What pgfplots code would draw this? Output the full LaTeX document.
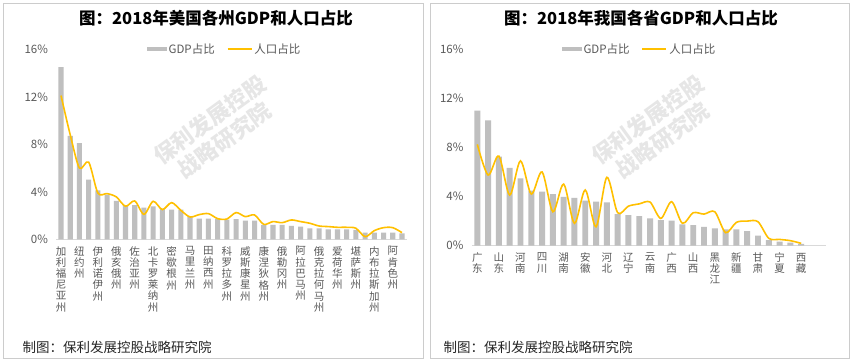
\documentclass[border=0pt]{standalone}
\usepackage{fontspec}
\setmainfont{Noto Sans CJK SC}
\usepackage{pgfplots}
\usepackage{pgfplotstable}
\pgfplotsset{compat=1.18}
\definecolor{bargray}{HTML}{BFBFBF}
\definecolor{lineyel}{HTML}{FFC000}
\definecolor{ticktxt}{HTML}{595959}
\definecolor{wm}{HTML}{E6E6E6}

\pgfplotstableread{
i gdp pop
0 14.5 12.1
1 8.7 8.8
2 8.1 6.0
3 5.03 6.5
4 4.13 3.9
5 3.76 3.85
6 3.23 3.57
7 2.87 2.78
8 2.87 3.23
9 2.67 2.1
10 2.78 3.2
11 2.58 2.5
12 2.5 3.09
13 2.5 2.44
14 1.88 1.88
15 1.74 2.08
16 1.74 2.16
17 1.74 1.74
18 1.66 1.71
19 1.69 2.25
20 1.57 1.91
21 1.57 2.05
22 1.21 1.26
23 1.21 1.49
24 1.21 1.4
25 1.12 1.63
26 1.07 1.49
27 0.93 1.35
28 0.93 1.12
29 0.84 1.07
30 0.84 1.01
31 0.84 1.01
32 0.79 0.93
33 0.56 0.22
34 0.56 0.73
35 0.56 0.98
36 0.56 0.98
37 0.5 0.56
}\usdata

\pgfplotstableread{
i gdp pop
0 10.98 8.24
1 10.2 5.75
2 7.24 7.29
3 6.34 4.12
4 5.47 6.9
5 4.47 4.2
6 4.39 6.0
7 4.2 2.76
8 3.98 5.01
9 3.9 1.82
10 3.66 4.53
11 3.58 1.54
12 3.52 5.56
13 2.57 2.68
14 2.49 3.22
15 2.41 3.4
16 2.22 3.55
17 2.09 2.22
18 2.03 3.58
19 1.73 1.82
20 1.68 2.68
21 1.54 2.57
22 1.41 2.76
23 1.33 1.06
24 1.33 1.9
25 1.19 2.0
26 0.81 1.95
27 0.46 0.6
28 0.33 0.51
29 0.24 0.41
30 0.14 0.19
}\cndata

\pgfplotsset{
  panel/.style={
    scale only axis,
    anchor=south west,
    ymin=0, ymax=16,
    ytick={0,4,8,12,16},
    yticklabels={0\%,4\%,8\%,12\%,16\%},
    axis x line=bottom,
    axis y line=left,
    axis line style={-},
    x axis line style={draw=black!15, line width=0.8pt},
    y axis line style={draw=none},
    major tick length=0pt,
    yticklabel style={font=\fontsize{11.5}{12}\selectfont, text=ticktxt, xshift=-5pt},
    xticklabel style={font=\fontsize{10.5}{11.2}\selectfont, text=ticktxt, align=center, inner sep=0pt, yshift=-7pt},
    clip=false,
    legend columns=2,
    legend style={draw=none, fill=none, font=\fontsize{11.5}{12}\selectfont, text=ticktxt,
      /tikz/every even column/.append style={column sep=10pt}, inner sep=0pt},
  },
  barleg/.style={legend image code/.code={\fill[bargray] (0pt,-2.2pt) rectangle (20pt,2.2pt);}},
  lineleg/.style={legend image code/.code={\draw[lineyel, line width=1.6pt] (0pt,0pt) -- (24pt,0pt);}},
}

\begin{document}
\begin{tikzpicture}[x=1pt,y=1pt]
\path[use as bounding box] (0,0) rectangle (852,364);
\fill[white] (0,0) rectangle (852,364);
\draw[black!20, line width=0.8pt] (3,6) rectangle (423,361);
\draw[black!20, line width=0.8pt] (430,6) rectangle (849,361);

% titles
\node[font=\bfseries\fontsize{16.5}{18}\selectfont] at (216,346) {图：2018年美国各州GDP和人口占比};
\node[font=\bfseries\fontsize{16.5}{18}\selectfont] at (641,346) {图：2018年我国各省GDP和人口占比};

% watermarks
\node[rotate=36, font=\bfseries\fontsize{22}{25}\selectfont, text=wm, align=center] at (217,234) {保利发展控股\\战略研究院};
\node[rotate=36, font=\bfseries\fontsize{22}{25}\selectfont, text=wm, align=center] at (655,234) {保利发展控股\\战略研究院};

% footers
\node[anchor=west, font=\fontsize{13.5}{14}\selectfont, text=black!85] at (19,17) {制图：保利发展控股战略研究院};
\node[anchor=west, font=\fontsize{13.5}{14}\selectfont, text=black!85] at (440,17) {制图：保利发展控股战略研究院};

\begin{axis}[panel,
  at={(56.4pt,124.7pt)}, width=350.2pt, height=190pt,
  xmin=-0.5, xmax=37.5,
  xtick={0,2,...,36},
  xticklabels={{加\\利\\福\\尼\\亚\\州},{纽\\约\\州},{伊\\利\\诺\\伊\\州},{俄\\亥\\俄\\州},{佐\\治\\亚\\州},{北\\卡\\罗\\莱\\纳\\州},{密\\歇\\根\\州},{马\\里\\兰\\州},{田\\纳\\西\\州},{科\\罗\\拉\\多\\州},{威\\斯\\康\\星\\州},{康\\涅\\狄\\格\\州},{俄\\勒\\冈\\州},{阿\\拉\\巴\\马\\州},{俄\\克\\拉\\何\\马\\州},{爱\\荷\\华\\州},{堪\\萨\\斯\\州},{内\\布\\拉\\斯\\加\\州},{阿\\肯\\色\\州}},
  legend style={at={(0.48,1)}, anchor=center},
]
\addplot[ybar, bar width=0.55, bar shift=0pt, fill=bargray, draw=none, barleg] table[x=i, y=gdp] {\usdata};
\addlegendentry{GDP占比}
\addplot[lineyel, line width=1.6pt, smooth, no markers, lineleg] table[x=i, y=pop] {\usdata};
\addlegendentry{人口占比}
\end{axis}

\begin{axis}[panel,
  at={(471.9pt,118.3pt)}, width=354.1pt, height=196.7pt,
  xmin=-0.5, xmax=32.3,
  xtick={0,2,...,30},
  xticklabels={{广\\东},{山\\东},{河\\南},{四\\川},{湖\\南},{安\\徽},{河\\北},{辽\\宁},{云\\南},{广\\西},{山\\西},{黑\\龙\\江},{新\\疆},{甘\\肃},{宁\\夏},{西\\藏}},
  legend style={at={(0.473,1)}, anchor=center},
]
\addplot[ybar, bar width=0.55, bar shift=0pt, fill=bargray, draw=none, barleg] table[x=i, y=gdp] {\cndata};
\addlegendentry{GDP占比}
\addplot[lineyel, line width=1.6pt, smooth, no markers, lineleg] table[x=i, y=pop] {\cndata};
\addlegendentry{人口占比}
\end{axis}
\end{tikzpicture}
\end{document}
